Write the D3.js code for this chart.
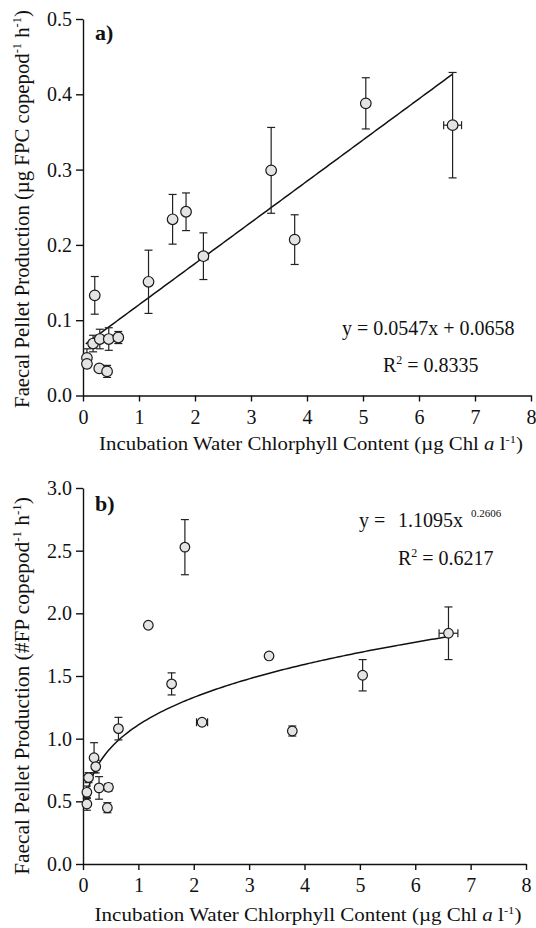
<!DOCTYPE html>
<html>
<head>
<meta charset="utf-8">
<script src="https://cdn.jsdelivr.net/npm/d3@7"></script>
<style>
  body { margin: 0; background: #fff; }
  svg { display: block; }
  text { font-family: "Liberation Serif", "Times New Roman", serif; fill: #111; }
</style>
</head>
<body>
<svg id="chart"></svg>
<script>
// Panel a) faecal pellet carbon production vs chlorophyll
const chlA   = [0.07, 0.07, 0.18, 0.21, 0.29, 0.30, 0.43, 0.46, 0.63, 1.17, 1.60, 1.84, 2.15, 3.36, 3.78, 5.05, 6.60];
const fpcA   = [0.050, 0.042, 0.069, 0.133, 0.036, 0.075, 0.032, 0.075, 0.077, 0.151, 0.234, 0.244, 0.185, 0.299, 0.207, 0.388, 0.359];
const fpcErr = [0.012, 0.005, 0.011, 0.025, 0.004, 0.013, 0.008, 0.015, 0.008, 0.042, 0.033, 0.025, 0.031, 0.057, 0.033, 0.034, 0.070];
const chlErrA = [0, 0, 0, 0, 0, 0, 0, 0, 0, 0, 0, 0, 0.08, 0, 0.05, 0, 0.16];

// Panel b) faecal pellet number production vs chlorophyll
const chlB   = [0.07, 0.07, 0.10, 0.20, 0.23, 0.29, 0.44, 0.46, 0.64, 1.18, 1.60, 1.84, 2.15, 3.36, 3.78, 5.05, 6.60];
const fpB    = [0.572, 0.479, 0.689, 0.848, 0.777, 0.607, 0.449, 0.612, 1.08, 1.905, 1.437, 2.528, 1.131, 1.66, 1.061, 1.506, 1.841];
const fpErr  = [0.05, 0.05, 0.04, 0.12, 0.05, 0.09, 0.04, 0.03, 0.09, 0.02, 0.088, 0.22, 0.02, 0.02, 0.04, 0.125, 0.21];
const chlErrB = [0, 0, 0, 0, 0.05, 0, 0, 0.04, 0, 0.03, 0, 0, 0.10, 0.06, 0.05, 0, 0.17];

const xTicks = [0, 1, 2, 3, 4, 5, 6, 7, 8];
const yTicksA = [0, 0.1, 0.2, 0.3, 0.4, 0.5];
const yTicksB = [0, 0.5, 1.0, 1.5, 2.0, 2.5, 3.0];

// fitted models shown on the panels
const fitA = x => 0.0547 * x + 0.0658;
const fitB = x => 1.1095 * Math.pow(x, 0.2606);

const svg = d3.select("#chart").attr("width", 536).attr("height", 928);

// write text made of plain / italic / superscript parts
function richText(sel, parts, size) {
  parts.forEach(p => {
    const t = sel.append("tspan").text(p.t);
    if (p.it) t.style("font-style", "italic");
    if (p.sup) t.attr("font-size", size * 0.6).attr("dy", -size * 0.38);
    if (p.after) t.attr("dy", size * 0.38);
  });
}

// put a title at (cx, cy) squeezed/stretched to a given length
function fittedTitle(parts, cx, cy, len, rotate, size) {
  const g = svg.append("g");
  const t = g.append("text").attr("font-size", size).attr("text-anchor", "middle");
  richText(t, parts, size);
  const w = t.node().getBBox().width;
  g.attr("transform", `translate(${cx},${cy}) rotate(${rotate}) scale(${len / w},1)`);
}

function drawPanel(cfg) {
  const x = d3.scaleLinear().domain([0, 8]).range([cfg.x0, cfg.x1]);
  const y = d3.scaleLinear().domain([0, cfg.yMax]).range([cfg.yBot, cfg.yTop]);
  const g = svg.append("g");

  const xAxis = g.append("g")
    .attr("transform", `translate(0,${cfg.yBot})`)
    .call(d3.axisBottom(x).tickValues(xTicks).tickFormat(d3.format("d"))
      .tickSize(6).tickSizeOuter(0).tickPadding(8));
  const yAxis = g.append("g")
    .attr("transform", `translate(${cfg.x0},0)`)
    .call(d3.axisLeft(y).tickValues(cfg.yTicks).tickFormat(d3.format(".1f"))
      .tickSize(7).tickSizeOuter(0).tickPadding(4));
  [xAxis, yAxis].forEach(a => {
    a.attr("font-size", 20).attr("font-family", null);
    a.selectAll("path, line").attr("stroke", "#111").attr("stroke-width", 1.4);
    a.selectAll("text").attr("fill", "#111");
  });

  // fitted line / curve
  const xs = d3.range(0.05, 6.6001, 0.05);
  g.append("path")
    .datum(xs)
    .attr("fill", "none")
    .attr("stroke", "#111")
    .attr("stroke-width", 1.5)
    .attr("d", d3.line().x(d => x(d)).y(d => y(cfg.fit(d))));

  const data = cfg.xs.map((v, i) => ({ x: v, y: cfg.ys[i], ey: cfg.yErr[i], ex: cfg.xErr[i] }));

  // error bars
  const eb = g.append("g").attr("stroke", "#222").attr("stroke-width", 1.2);
  data.forEach(d => {
    const cx = x(d.x), cy = y(d.y);
    const y1 = y(d.y + d.ey), y2 = y(d.y - d.ey);
    eb.append("line").attr("x1", cx).attr("x2", cx).attr("y1", y1).attr("y2", y2);
    eb.append("line").attr("x1", cx - 4).attr("x2", cx + 4).attr("y1", y1).attr("y2", y1);
    eb.append("line").attr("x1", cx - 4).attr("x2", cx + 4).attr("y1", y2).attr("y2", y2);
    if (d.ex > 0) {
      const x1 = x(d.x - d.ex), x2 = x(d.x + d.ex);
      eb.append("line").attr("x1", x1).attr("x2", x2).attr("y1", cy).attr("y2", cy);
      eb.append("line").attr("x1", x1).attr("x2", x1).attr("y1", cy - 4).attr("y2", cy + 4);
      eb.append("line").attr("x1", x2).attr("x2", x2).attr("y1", cy - 4).attr("y2", cy + 4);
    }
  });

  g.selectAll("circle")
    .data(data)
    .enter().append("circle")
    .attr("cx", d => x(d.x))
    .attr("cy", d => y(d.y))
    .attr("r", cfg.r)
    .attr("fill", "#e4e4e4")
    .attr("stroke", "#1a1a1a")
    .attr("stroke-width", 1.2);

  // panel letter
  g.append("text")
    .attr("x", cfg.x0 + 12).attr("y", cfg.yTop + cfg.letterDy)
    .attr("font-size", 22).attr("font-weight", "bold")
    .text(cfg.letter);
}

drawPanel({
  x0: 83, x1: 531, yTop: 19, yBot: 395.5, yMax: 0.5, yTicks: yTicksA,
  xs: chlA, ys: fpcA, yErr: fpcErr, xErr: chlErrA, fit: fitA, r: 5.3,
  letter: "a)", letterDy: 21
});
drawPanel({
  x0: 83, x1: 526, yTop: 488, yBot: 864, yMax: 3.0, yTicks: yTicksB,
  xs: chlB, ys: fpB, yErr: fpErr, xErr: chlErrB, fit: fitB, r: 4.8,
  letter: "b)", letterDy: 23
});

// equations
svg.append("text").attr("x", 342).attr("y", 335).attr("font-size", 20)
  .text("y = 0.0547x + 0.0658");
richText(svg.append("text").attr("x", 383).attr("y", 372).attr("font-size", 20),
  [{ t: "R" }, { t: "2", sup: true }, { t: " = 0.8335", after: true }], 20);

const eqB = svg.append("text").attr("y", 527).attr("font-size", 20);
eqB.append("tspan").attr("x", 359).text("y =");
eqB.append("tspan").attr("x", 398).text("1.1095x");
svg.append("text").attr("x", 471).attr("y", 517).attr("font-size", 11).text("0.2606");
richText(svg.append("text").attr("x", 398).attr("y", 565).attr("font-size", 20),
  [{ t: "R" }, { t: "2", sup: true }, { t: " = 0.6217", after: true }], 20);

// axis titles
const xTitle = [
  { t: "Incubation Water Chlorphyll Content (µg Chl " },
  { t: " a", it: true },
  { t: " l" },
  { t: "-1", sup: true },
  { t: ")", after: true }
];
fittedTitle(xTitle, 311, 450, 424, 0, 19);
fittedTitle(xTitle, 308, 921, 427, 0, 19);

fittedTitle([
  { t: "Faecal Pellet Production (µg FPC copepod" },
  { t: "-1", sup: true },
  { t: " h", after: true },
  { t: "-1", sup: true },
  { t: ")", after: true }
], 29, 209, 398, -90, 21);
fittedTitle([
  { t: "Faecal Pellet Production (#FP copepod" },
  { t: "-1", sup: true },
  { t: " h", after: true },
  { t: "-1", sup: true },
  { t: ")", after: true }
], 29, 686, 378, -90, 21);
</script>
</body>
</html>
